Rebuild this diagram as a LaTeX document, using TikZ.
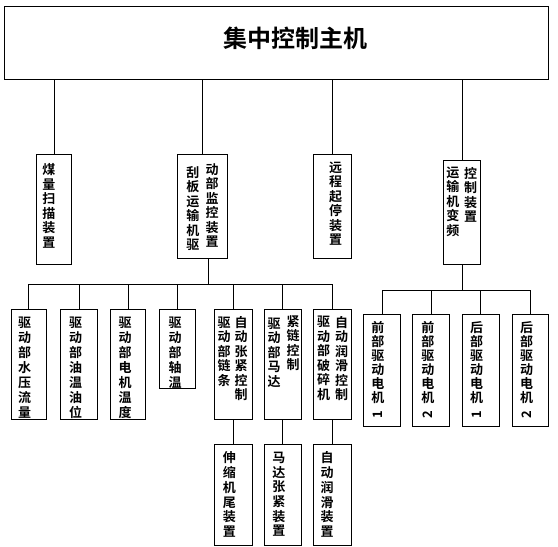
\documentclass[tikz,border=0pt]{standalone}
\usepackage{fontspec}
\setmainfont{Noto Sans CJK SC}[BoldFont={Noto Sans CJK SC Bold}]
\usepackage{tikz}

\tikzset{
    box/.style={draw, line width=1pt, inner sep=0, anchor=north west},
    vt/.style={anchor=north, inner sep=0, align=center, font=\fontsize{13}{#1}\selectfont\bfseries},
    vt/.default=14.5,
    num/.style={rotate=90, inner sep=0, font=\fontsize{13}{13}\selectfont\bfseries},
    link/.style={line width=1pt}
}

\begin{document}
\begin{tikzpicture}[x=1pt, y=-1pt]
    \useasboundingbox (0, 0) rectangle (558, 547);
    \node[box, minimum width=544, minimum height=73] (host) at (4, 6) {};
    \node[inner sep=0, font=\fontsize{24}{24}\selectfont\bfseries] (title) at (295, 38) {集中控制主机};

    \node[box, minimum width=35.6, minimum height=110] (coal) at (35.7, 154.3) {};
    \node[box, minimum width=49.4, minimum height=104] (scraper) at (177.3, 154.3) {};
    \node[box, minimum width=37.4, minimum height=104] (remote) at (313.3, 154.3) {};
    \node[box, minimum width=37, minimum height=104.3] (conveyor) at (443.3, 160) {};
    \node[vt] (coaltxt) at (48.8, 163.3) {煤\\量\\扫\\描\\装\\置};
    \node[vt] (scrapertxtl) at (192.8, 166) {刮\\板\\运\\输\\机\\驱};
    \node[vt] (scrapertxtr) at (212, 163.3) {动\\部\\监\\控\\装\\置};
    \node[vt] (remotetxt) at (335.5, 161.7) {远\\程\\起\\停\\装\\置};
    \node[vt] (conveyortxtl) at (452.8, 166.7) {运\\输\\机\\变\\频};
    \node[vt] (conveyortxtr) at (470.5, 166.7) {控\\制\\装\\置};

    \node[box, minimum width=35, minimum height=110] (water) at (10.7, 309.3) {};
    \node[box, minimum width=36.4, minimum height=110] (oil) at (60.3, 309.3) {};
    \node[box, minimum width=35.6, minimum height=110] (motor) at (109.7, 309.3) {};
    \node[box, minimum width=36, minimum height=79] (bearing) at (159.3, 309.3) {};
    \node[box, minimum width=37.7, minimum height=110] (chain) at (214, 309.3) {};
    \node[box, minimum width=36.7, minimum height=110] (mchain) at (264, 309.3) {};
    \node[box, minimum width=37.4, minimum height=110] (breaker) at (313.3, 309.3) {};
    \node[vt=15] (watertxt) at (24.5, 316.7) {驱\\动\\部\\水\\压\\流\\量};
    \node[vt=15] (oiltxt) at (75.5, 316.7) {驱\\动\\部\\油\\温\\油\\位};
    \node[vt=15] (motortxt) at (125, 316.7) {驱\\动\\部\\电\\机\\温\\度};
    \node[vt=15] (bearingtxt) at (175, 316.7) {驱\\动\\部\\轴\\温};
    \node[vt=14.5] (chaintxtl) at (224, 316.7) {驱\\动\\部\\链\\条};
    \node[vt=14.5] (chaintxtr) at (241, 316) {自\\动\\张\\紧\\控\\制};
    \node[vt=14.5] (mchaintxtl) at (274, 317.3) {驱\\动\\部\\马\\达};
    \node[vt=14.5] (mchaintxtr) at (293, 315) {紧\\链\\控\\制};
    \node[vt=14.5] (breakertxtl) at (323.7, 316) {驱\\动\\部\\破\\碎\\机};
    \node[vt=14.5] (breakertxtr) at (341.7, 316) {自\\动\\润\\滑\\控\\制};

    \node[box, minimum width=37.7, minimum height=100.7] (tail) at (214, 444.3) {};
    \node[box, minimum width=36.7, minimum height=100.7] (mtension) at (264, 444.3) {};
    \node[box, minimum width=37.4, minimum height=100.7] (lube) at (313.3, 444.3) {};
    \node[vt=14.7] (tailtxt) at (229.3, 451.7) {伸\\缩\\机\\尾\\装\\置};
    \node[vt=14.7] (mtensiontxt) at (278.8, 451.7) {马\\达\\张\\紧\\装\\置};
    \node[vt=14.7] (lubetxt) at (327, 451.7) {自\\动\\润\\滑\\装\\置};

    \node[box, minimum width=36.4, minimum height=111.4] (front1) at (363.3, 314.3) {};
    \node[box, minimum width=37, minimum height=111.4] (front2) at (412.3, 314.3) {};
    \node[box, minimum width=36.7, minimum height=111.4] (rear1) at (462, 314.3) {};
    \node[box, minimum width=36.6, minimum height=111.4] (rear2) at (511.7, 314.3) {};
    \node[vt=14] (front1txt) at (377.8, 321.7) {前\\部\\驱\\动\\电\\机};
    \node[vt=14] (front2txt) at (427.8, 321.7) {前\\部\\驱\\动\\电\\机};
    \node[vt=14] (rear1txt) at (476.7, 321.7) {后\\部\\驱\\动\\电\\机};
    \node[vt=14] (rear2txt) at (526.7, 321.7) {后\\部\\驱\\动\\电\\机};
    \node[num] (front1num) at (377.8, 415) {1};
    \node[num] (front2num) at (427.8, 415) {2};
    \node[num] (rear1num) at (476.7, 415) {1};
    \node[num] (rear2num) at (526.7, 415) {2};

    \coordinate (busL) at (0, 284);
    \coordinate (busR) at (0, 290.7);

    \foreach \n in {coal, scraper, remote, conveyor}
        \draw[link] (host.south -| \n.north) -- (\n.north);
    \draw[link] ([xshift=6pt]scraper.south) -- ([xshift=6pt]scraper.south |- busL);
    \draw[link] (water.north |- busL) -- (breaker.north |- busL);
    \foreach \n in {water, oil, motor, bearing, chain, mchain, breaker}
        \draw[link] (\n.north |- busL) -- (\n.north);
    \draw[link] (chain.south) -- (tail.north);
    \draw[link] (mchain.south) -- (mtension.north);
    \draw[link] (breaker.south) -- (lube.north);
    \draw[link] (conveyor.south) -- (conveyor.south |- busR);
    \draw[link] (front1.north |- busR) -- (rear2.north |- busR);
    \foreach \n in {front1, front2, rear1, rear2}
        \draw[link] (\n.north |- busR) -- (\n.north);
\end{tikzpicture}
\end{document}
